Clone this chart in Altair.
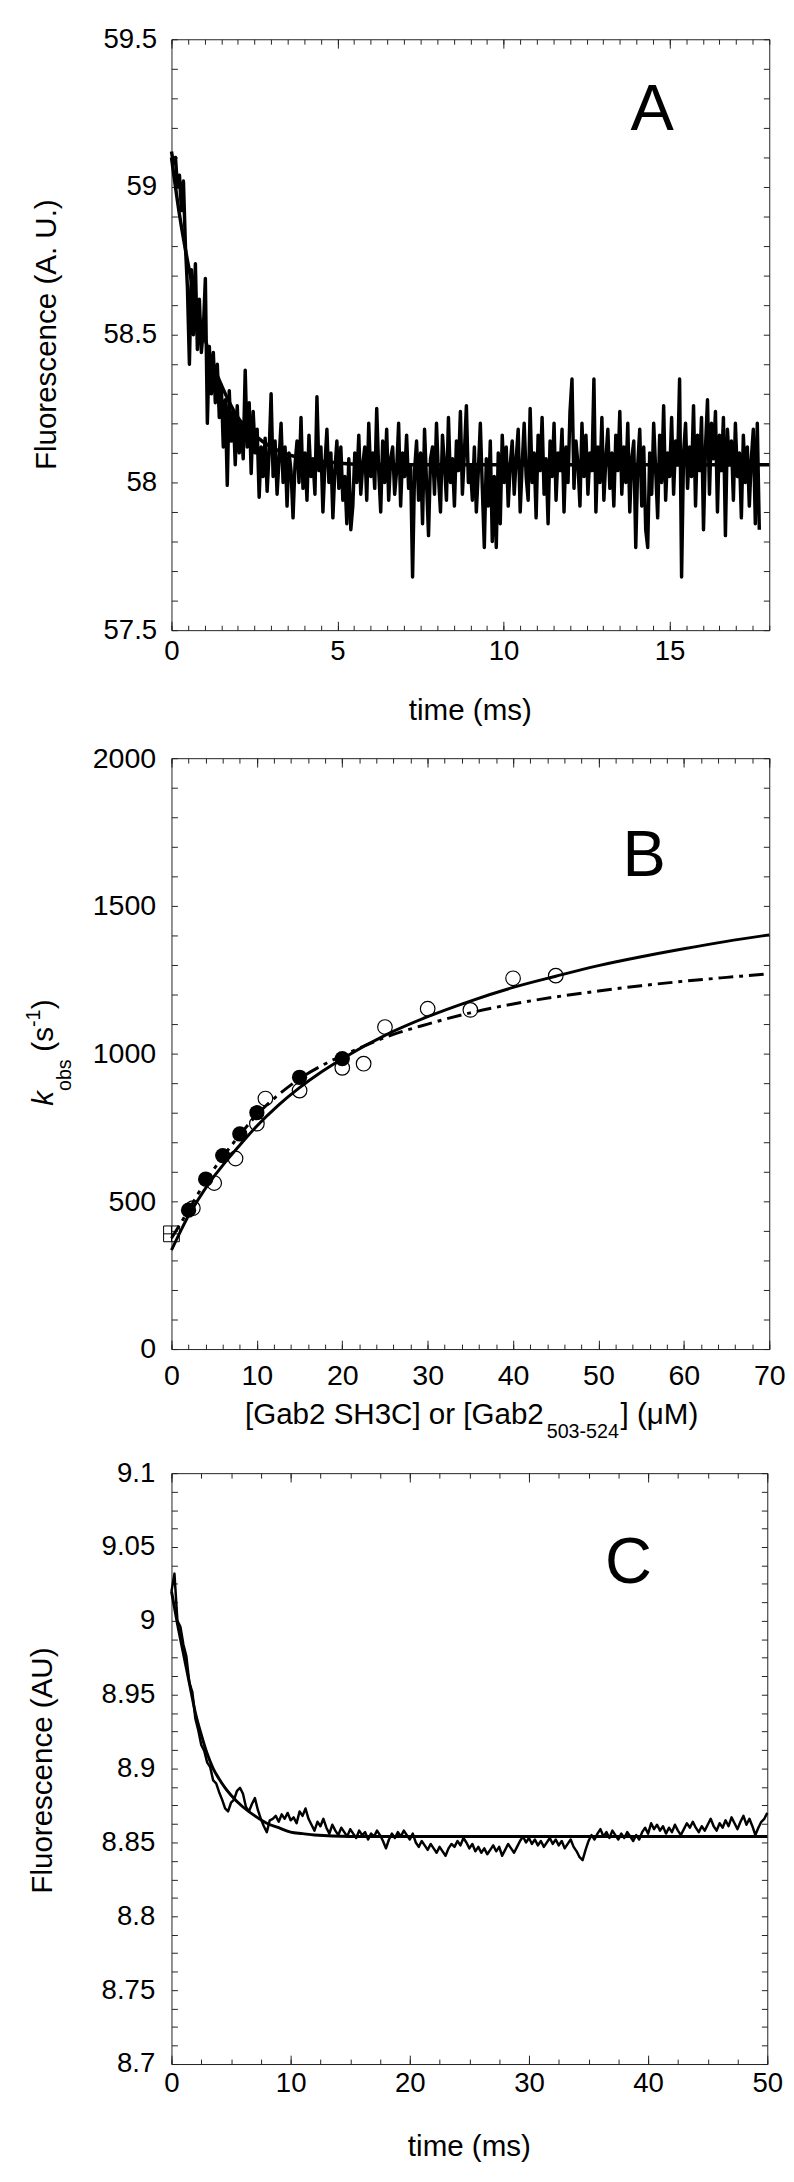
import altair as alt
import pandas as pd

FONT = "Liberation Sans"
INK = "black"
FRAME = "#222"

# ---------------- Panel A : fluorescence trace ----------------
A_t0 = 0.0
A_dt = 0.06  # sampling interval (ms)
A_trace = [
    59.12, 59.08, 59.10, 59.00, 59.04, 58.92, 59.02, 58.80, 58.66, 58.40,
    58.72, 58.50, 58.74, 58.45, 58.62, 58.44, 58.52, 58.69, 58.20, 58.46,
    58.30, 58.44, 58.27, 58.40, 58.22, 58.33, 58.12, 58.28, 57.99, 58.31,
    58.14, 58.24, 58.06, 58.26, 58.10, 58.20, 58.08, 58.38, 58.12, 58.27,
    58.03, 58.24, 58.10, 58.18, 57.95, 58.12, 58.02, 58.15, 57.97, 58.10,
    58.30,
    58.02, 58.14, 57.96, 58.08, 58.20, 58.00, 58.12, 57.92, 58.10, 58.04,
    57.88, 58.06, 58.14, 58.00, 58.22, 57.98, 58.10, 57.94, 58.16, 58.02,
    58.08, 57.96, 58.29, 58.04, 58.12, 57.90, 58.06, 58.18, 58.00, 58.10,
    57.88, 58.04, 58.14, 57.98, 58.12, 57.94, 58.02, 57.86, 58.08, 57.84,
    57.92, 58.10, 58.00, 58.16, 57.96, 58.06, 58.12, 57.94, 58.20, 58.02,
    58.10, 57.98, 58.25, 58.04, 57.90, 58.14, 58.00, 58.18, 57.94, 58.08,
    58.12, 57.96, 58.04, 58.20, 57.92, 58.10, 58.02, 58.16, 57.98, 58.06,
    57.68, 58.04, 58.14, 57.94, 58.10, 57.86, 58.18, 58.00, 57.82, 58.08,
    58.12, 57.96, 58.20, 58.02, 57.90, 58.16, 58.06, 57.94, 58.22, 58.00,
    58.08, 57.92, 58.14, 58.04, 58.24, 57.96, 58.10, 58.26, 58.00, 58.06,
    57.94, 58.12, 57.90, 58.04, 58.20, 57.98, 57.78, 58.08, 57.92, 58.14,
    57.80, 58.02, 57.78, 58.10, 57.86, 58.16, 58.00, 58.12, 57.92, 58.06,
    58.14, 57.96, 58.08, 58.18, 57.90, 58.06, 58.20, 58.02, 57.94, 58.25,
    58.00, 58.10, 57.88, 58.16, 58.04, 58.22, 57.96, 58.08, 57.86, 58.14,
    58.02, 58.20, 57.94, 58.10, 58.04, 58.18, 57.90, 58.12, 58.00, 58.24,
    58.35, 57.98, 58.14, 58.06, 57.92, 58.20, 58.02, 58.16, 57.96, 58.10,
    58.04, 58.35, 57.90, 58.12, 58.00, 58.22, 57.94, 58.08, 58.18, 57.98,
    58.10, 57.92, 58.16, 58.04, 58.24, 57.96, 58.12, 58.00, 58.20, 57.90,
    58.08, 58.14, 57.78, 58.06, 58.18, 57.92, 58.12, 57.84, 57.78, 58.10,
    57.96, 58.20, 58.04, 57.88, 58.16, 58.00, 58.26, 57.94, 58.10, 58.02,
    58.22, 57.96, 58.14, 58.06, 58.35, 57.68, 58.10, 58.20, 57.98, 58.12,
    58.02, 58.26, 57.92, 58.16, 58.04, 58.22, 57.84, 58.12, 58.28, 57.96,
    58.20, 58.08, 58.24, 57.90, 58.16, 58.04, 58.22, 57.82, 58.18, 58.06,
    58.14, 57.94, 58.20, 58.02, 58.10, 57.88, 58.16, 58.00, 58.12, 57.92,
    58.08, 58.18, 57.86, 58.20, 57.84,
]
A_fit_t = [0, 0.25, 0.5, 0.75, 1.0, 1.25, 1.5, 1.75, 2.0, 2.5, 3.0, 3.5, 4.0, 5.0, 6.0, 8.0, 18.0]
A_fit_v = [59.10, 58.90, 58.74, 58.60, 58.49, 58.40, 58.33, 58.27, 58.22, 58.16, 58.12,
           58.095, 58.08, 58.066, 58.06, 58.06, 58.06]
A_xdom = [0, 18]
A_ydom = [57.5, 59.5]
A_xlabels = [0, 5, 10, 15]
A_ylabels = [57.5, 58, 58.5, 59, 59.5]

# ---------------- Panel B : kobs vs concentration ----------------
B_open_x = [2.5, 5, 7.5, 10, 11, 15, 20, 22.5, 25, 30, 35, 40, 45]
B_open_y = [477, 562, 645, 763, 848, 875, 952, 966, 1090, 1152, 1148, 1255, 1264]
B_filled_x = [2, 4, 6, 8, 10, 15, 20]
B_filled_y = [470, 575, 655, 728, 800, 920, 983]
B_square_x = [0]
B_square_y = [390]
B_solid_x = [0, 1, 2, 3, 4, 5, 6, 8, 10, 12.5, 15, 17.5, 20, 25, 30, 35, 40, 45, 50, 55, 60, 65, 70]
B_solid_y = [335, 395, 452, 500, 545, 585, 622, 690, 755, 825, 885, 937, 983, 1062, 1125, 1178,
             1224, 1262, 1298, 1328, 1355, 1380, 1402]
B_dash_x = [0, 2, 4, 6, 8, 10, 12.5, 15, 17.5, 20, 22.5, 25, 30, 35, 40, 45, 50, 55, 60, 65, 70]
B_dash_y = [375, 470, 568, 650, 725, 793, 860, 915, 958, 993, 1025, 1055, 1100, 1138, 1168, 1192,
            1212, 1230, 1245, 1258, 1270]
B_xdom = [0, 70]
B_ydom = [0, 2000]
B_xlabels = [0, 10, 20, 30, 40, 50, 60, 70]
B_ylabels = [0, 500, 1000, 1500, 2000]

# ---------------- Panel C : fluorescence trace ----------------
C_t0 = 0.0
C_dt = 0.25  # sampling interval (ms)
C_trace = [
    9.020, 9.032, 9.000, 8.996, 8.984, 8.976, 8.958, 8.952, 8.934, 8.926,
    8.916, 8.912, 8.904, 8.901, 8.892, 8.890, 8.884, 8.879, 8.873, 8.871,
    8.877, 8.879, 8.885, 8.887, 8.883, 8.874, 8.871, 8.876, 8.880, 8.872,
    8.866, 8.861, 8.857, 8.865, 8.866,
    8.868, 8.864, 8.869, 8.866, 8.870, 8.865, 8.867, 8.863, 8.871, 8.868,
    8.873, 8.866, 8.862, 8.858, 8.864, 8.861, 8.866, 8.860, 8.856, 8.862,
    8.858, 8.855, 8.860, 8.857, 8.854, 8.859, 8.856, 8.853, 8.858, 8.855,
    8.857, 8.852, 8.856, 8.854, 8.858, 8.855, 8.851, 8.846, 8.852, 8.856,
    8.853, 8.857, 8.854, 8.858, 8.855, 8.852, 8.856, 8.850, 8.847, 8.851,
    8.848, 8.845, 8.849, 8.846, 8.843, 8.847, 8.844, 8.841, 8.846, 8.849,
    8.847, 8.851, 8.848, 8.853, 8.850, 8.846, 8.849, 8.844, 8.847, 8.843,
    8.846, 8.842, 8.845, 8.848, 8.844, 8.847, 8.841, 8.845, 8.849, 8.846,
    8.843, 8.847, 8.851, 8.854, 8.850, 8.853, 8.849, 8.852, 8.848, 8.851,
    8.847, 8.850, 8.853, 8.849, 8.852, 8.848, 8.851, 8.846, 8.849, 8.852,
    8.847, 8.844, 8.840, 8.838, 8.845, 8.851, 8.855, 8.852, 8.856, 8.859,
    8.854, 8.857, 8.853, 8.858, 8.855, 8.852, 8.856, 8.853, 8.857, 8.854,
    8.851, 8.855, 8.852, 8.857, 8.860, 8.856, 8.863, 8.859, 8.862, 8.858,
    8.861, 8.856, 8.860, 8.857, 8.862, 8.858, 8.855, 8.859, 8.863, 8.860,
    8.864, 8.860, 8.857, 8.861, 8.858, 8.862, 8.866, 8.861, 8.858, 8.863,
    8.860, 8.865, 8.861, 8.867, 8.863, 8.859, 8.864, 8.868, 8.862, 8.866,
    8.861, 8.855, 8.860, 8.864, 8.866, 8.870,
]
C_fit_t = [0, 0.5, 1, 1.5, 2, 2.5, 3, 3.5, 4, 4.5, 5, 6, 7, 8, 9, 10, 11, 12, 15, 20, 50]
C_fit_v = [9.020, 8.998, 8.978, 8.958, 8.938, 8.923, 8.910, 8.900, 8.893, 8.887, 8.882,
           8.874, 8.868, 8.863, 8.860, 8.857, 8.856, 8.855, 8.854, 8.854, 8.854]
C_xdom = [0, 50]
C_ydom = [8.7, 9.1]
C_xlabels = [0, 10, 20, 30, 40, 50]
C_ylabels = [8.7, 8.75, 8.8, 8.85, 8.9, 8.95, 9, 9.05, 9.1]

# tick positions (axis decoration)
A_xminor = [round(0.5 * i, 2) for i in range(37)]
A_xmajor = [0, 5, 10, 15]
A_yminor = [round(57.5 + 0.1 * i, 2) for i in range(21)]
B_xminor = [2 * i for i in range(36)]
B_xmajor = [0, 10, 20, 30, 40, 50, 60, 70]
B_yminor = [100 * i for i in range(21)]
C_xminor = [2.5 * i for i in range(21)]
C_xmajor = [0, 10, 20, 30, 40, 50]
C_yminor = [round(8.7 + 0.0125 * i, 4) for i in range(33)]

H = 600
ONE = pd.DataFrame({"k": [0]})
LABEL_FMT = ".6~g"


def X(dom, axis=None):
    return alt.X("x:Q", scale=alt.Scale(domain=dom, nice=False, zero=False), axis=axis)


def Y(dom, axis=None):
    return alt.Y("y:Q", scale=alt.Scale(domain=dom, nice=False, zero=False), axis=axis)


def label_x(vals, pad, fs):
    return alt.Axis(orient="bottom", values=vals, format=LABEL_FMT, labelFont=FONT, labelFontSize=fs,
                    labelColor=INK, labelPadding=pad, labelBaseline="middle", labelFlush=False,
                    labelOverlap=False, ticks=False, tickSize=0, domain=False, grid=False, title=None)


def label_y(vals, pad, fs):
    return alt.Axis(orient="left", values=vals, format=LABEL_FMT, labelFont=FONT, labelFontSize=fs,
                    labelColor=INK, labelPadding=pad, labelAlign="right", labelBaseline="middle",
                    labelOverlap=False, ticks=False, tickSize=0, domain=False, grid=False, title=None)


def tick_axis(orient, offset, vals, size):
    return alt.Axis(orient=orient, offset=offset, values=vals, labels=False, ticks=True,
                    tickSize=size, tickColor=FRAME, tickWidth=1, domain=False, grid=False, title=None)


def tick_layers(df, W, xdom, ydom, xminor, xmajor, yminor):
    ghost = alt.Chart(df).mark_point(opacity=0)
    return [
        ghost.encode(x=X(xdom, tick_axis("top", -H, xminor, 5)),
                     y=Y(ydom, tick_axis("right", -W, yminor, 6))),
        ghost.encode(x=X(xdom, tick_axis("bottom", -H, xminor, 5)),
                     y=Y(ydom, tick_axis("left", -W, yminor, 6))),
        ghost.encode(x=X(xdom, tick_axis("top", -H, xmajor, 9)), y=Y(ydom)),
        ghost.encode(x=X(xdom, tick_axis("bottom", -H, xmajor, 9)), y=Y(ydom)),
    ]


def txt(s, x, y, fs, angle=0, align="center", baseline="middle", style="normal"):
    kw = dict(text=s, font=FONT, fontSize=fs, align=align, baseline=baseline, color=INK,
              fontStyle=style)
    if angle:
        kw["angle"] = angle
    return alt.Chart(ONE).mark_text(**kw).encode(x=alt.value(x), y=alt.value(y))


def bounds(L, T, B):
    return alt.Chart(ONE).mark_rule(strokeOpacity=0, strokeWidth=0.1).encode(
        x=alt.value(L), x2=alt.value(L + 1), y=alt.value(T), y2=alt.value(B))


# ---------- build panel A ----------
WA = 607
dfA = pd.DataFrame({"x": [A_t0 + A_dt * i for i in range(len(A_trace))], "y": A_trace})
dfAf = pd.DataFrame({"x": A_fit_t, "y": A_fit_v})
a_fit = alt.Chart(dfAf).mark_line(color=INK, strokeWidth=3.5, interpolate="monotone").encode(
    x=X(A_xdom), y=Y(A_ydom))
a_main = alt.Chart(dfA).mark_line(color=INK, strokeWidth=3.5, strokeJoin="round").encode(
    x=X(A_xdom, label_x(A_xlabels, 22, 28)), y=Y(A_ydom, label_y(A_ylabels, 15, 28)))
panelA = alt.layer(
    a_fit, a_main,
    *tick_layers(dfAf, WA, A_xdom, A_ydom, A_xminor, A_xmajor, A_yminor),
    txt("A", 488, 72, 66),
    txt("Fluorescence (A. U.)", -126, 300, 30, angle=270),
    txt("time (ms)", WA / 2, 682, 30),
    bounds(-141, -14, 706),
).resolve_axis(x="independent", y="independent").properties(width=WA, height=H)

# ---------- build panel B ----------
WB = 607
dfBo = pd.DataFrame({"x": B_open_x, "y": B_open_y})
dfBf = pd.DataFrame({"x": B_filled_x, "y": B_filled_y})
dfBs = pd.DataFrame({"x": B_square_x, "y": B_square_y})
dfBl = pd.DataFrame({"x": B_solid_x, "y": B_solid_y})
dfBd = pd.DataFrame({"x": B_dash_x, "y": B_dash_y})
b_solid = alt.Chart(dfBl).mark_line(color=INK, strokeWidth=3, interpolate="monotone").encode(
    x=X(B_xdom, label_x(B_xlabels, 27, 29)), y=Y(B_ydom, label_y(B_ylabels, 16, 29)))
b_dash = alt.Chart(dfBd).mark_line(color=INK, strokeWidth=3, interpolate="monotone",
                                   strokeDash=[15, 6, 4, 6]).encode(x=X(B_xdom), y=Y(B_ydom))
b_open = alt.Chart(dfBo).mark_point(shape="circle", size=220, filled=False, color=INK,
                                    strokeWidth=1.2, opacity=1).encode(x=X(B_xdom), y=Y(B_ydom))
b_filled = alt.Chart(dfBf).mark_point(shape="circle", size=240, filled=True, color=INK,
                                      opacity=1).encode(x=X(B_xdom), y=Y(B_ydom))
b_square = alt.Chart(dfBs).mark_point(shape="M-1,-1L1,-1L1,1L-1,1Z M-1,0L1,0 M0,-1L0,1",
                                      size=256, filled=False, color=INK, strokeWidth=1,
                                      opacity=1).encode(x=X(B_xdom), y=Y(B_ydom))
panelB = alt.layer(
    b_solid, b_dash, b_open, b_filled, b_square,
    *tick_layers(dfBl, WB, B_xdom, B_ydom, B_xminor, B_xmajor, B_yminor),
    txt("B", 480, 100, 66),
    txt("[Gab2 SH3C] or [Gab2", 378, 667, 30, align="right"),
    txt("503-524", 381, 684, 20, align="left"),
    txt("] (\u03bcM)", 456, 667, 30, align="left"),
    txt("k", -120, 353, 30, angle=270, align="left", baseline="alphabetic", style="italic"),
    txt("obs", -102, 338, 20, angle=270, align="left", baseline="alphabetic"),
    txt("(s", -120, 298, 30, angle=270, align="left", baseline="alphabetic"),
    txt("-1", -133, 273, 20, angle=270, align="left", baseline="alphabetic"),
    txt(")", -120, 255, 30, angle=270, align="left", baseline="alphabetic"),
    bounds(-149, -22, 700),
).resolve_axis(x="independent", y="independent").properties(width=WB, height=H)

# ---------- build panel C ----------
WC = 605
dfC = pd.DataFrame({"x": [C_t0 + C_dt * i for i in range(len(C_trace))], "y": C_trace})
dfCf = pd.DataFrame({"x": C_fit_t, "y": C_fit_v})
c_main = alt.Chart(dfC).mark_line(color=INK, strokeWidth=2.5, strokeJoin="round").encode(
    x=X(C_xdom, label_x(C_xlabels, 20, 28)), y=Y(C_ydom, label_y(C_ylabels, 17, 28)))
c_fit = alt.Chart(dfCf).mark_line(color=INK, strokeWidth=3, interpolate="monotone").encode(
    x=X(C_xdom), y=Y(C_ydom))
panelC = alt.layer(
    c_main, c_fit,
    *tick_layers(dfCf, WC, C_xdom, C_ydom, C_xminor, C_xmajor, C_yminor),
    txt("C", 464, 92, 66),
    txt("Fluorescence (AU)", -130, 302, 30, angle=270),
    txt("time (ms)", WC / 2, 684, 30),
    bounds(-165, -24, 700),
).resolve_axis(x="independent", y="independent").properties(width=WC, height=H)

chart = alt.vconcat(panelA, panelB, panelC, spacing=0).properties(padding=0).configure_view(
    stroke=FRAME, strokeWidth=1)

chart.save("out.html", embed_options={"renderer": "svg", "actions": False})
